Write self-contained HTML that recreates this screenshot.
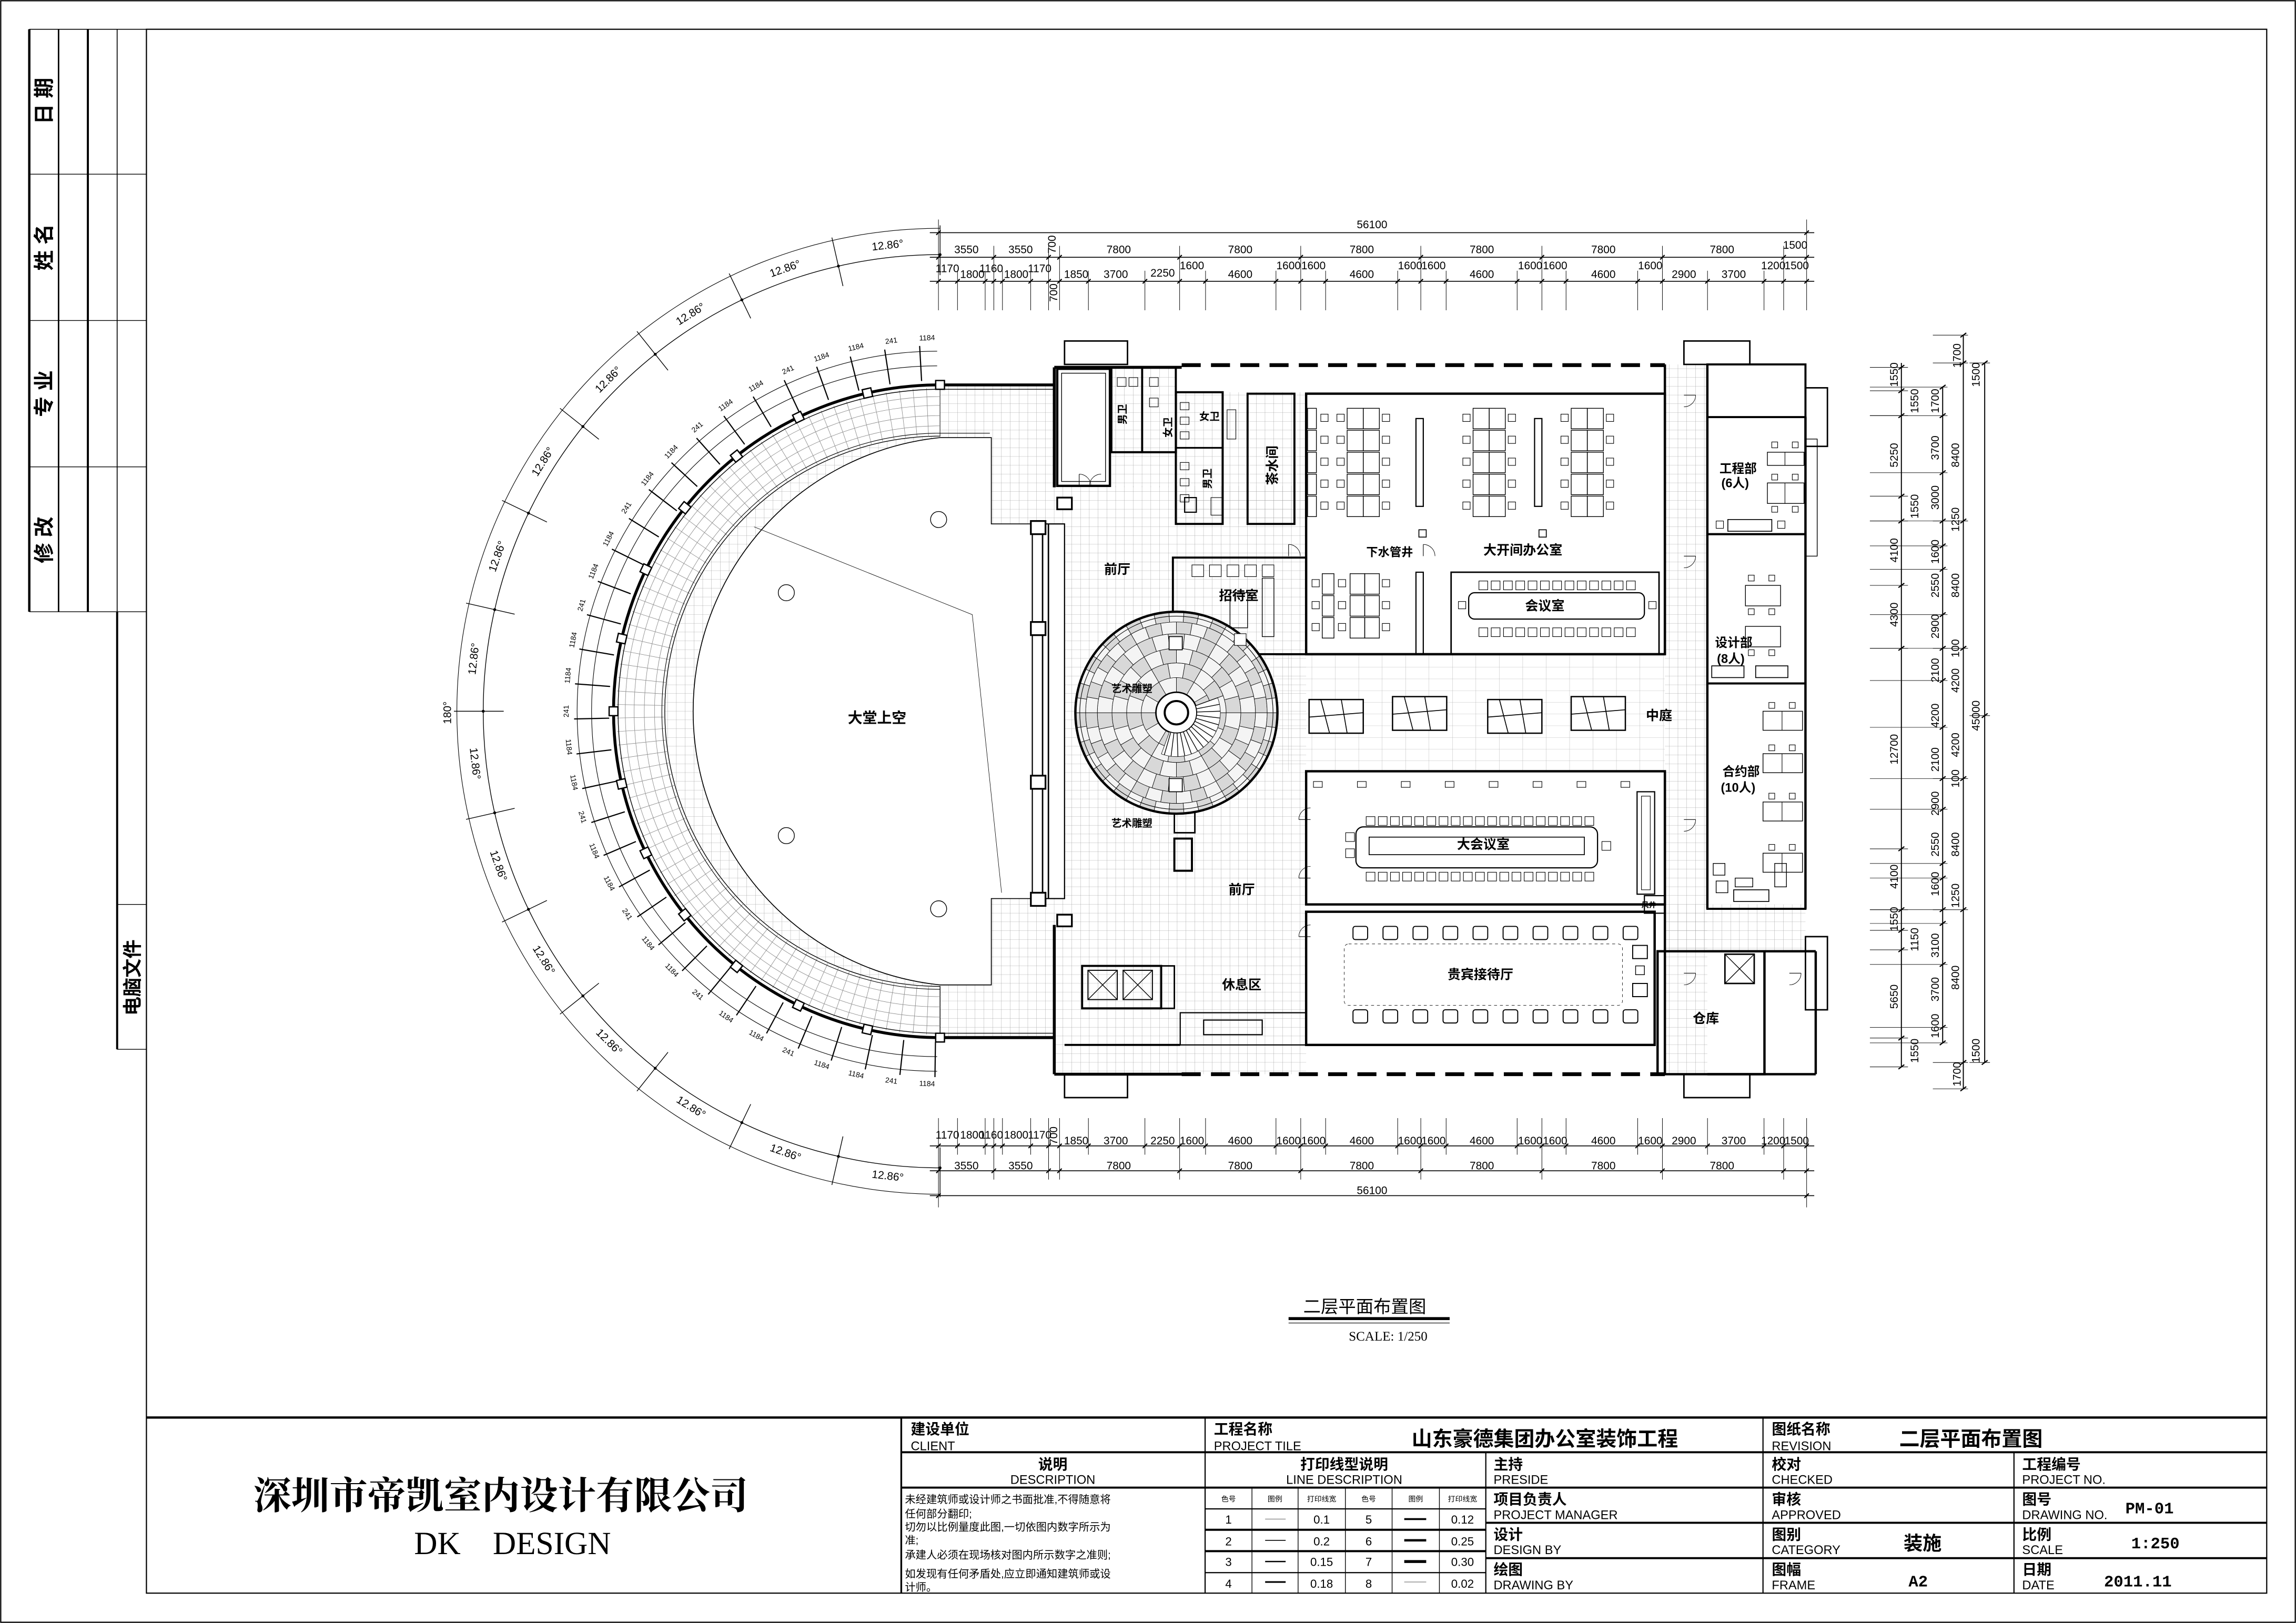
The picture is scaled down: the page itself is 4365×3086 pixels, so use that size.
<!DOCTYPE html>
<html><head><meta charset="utf-8">
<style>
html,body{margin:0;padding:0;background:#fff;}
svg{display:block;}
text{font-family:"Liberation Sans","Noto Sans CJK SC",sans-serif;fill:#000;stroke:none;}
.cn{font-family:"Liberation Sans","Noto Sans CJK SC",sans-serif;font-weight:bold;}
.d{font-size:7.5px;text-anchor:middle;}
.t{font-size:9px;}
.e{font-size:8.5px;}
.lb{font-size:9px;font-weight:bold;text-anchor:middle;}
.ang{font-size:7.5px;text-anchor:middle;dominant-baseline:middle;}
.rl{font-size:5px;text-anchor:middle;dominant-baseline:middle;}
.mono{font-family:"Liberation Mono",monospace !important;font-weight:bold;}
.serif{font-family:"Liberation Serif",serif !important;}
</style></head>
<body>
<svg id="s" xmlns="http://www.w3.org/2000/svg" width="4365" height="3086" viewBox="0 0 1568 1109" preserveAspectRatio="none">
<defs>
<pattern id="g6" patternUnits="userSpaceOnUse" width="6" height="6"><path d="M6 0V6M0 6H6" stroke="#999" stroke-width="0.3" fill="none"/></pattern>
<pattern id="g8" patternUnits="userSpaceOnUse" width="8" height="8"><path d="M8 0V8M0 8H8" stroke="#999" stroke-width="0.3" fill="none"/></pattern>
<pattern id="gc" patternUnits="userSpaceOnUse" width="16" height="8"><path d="M0 8H16M16 0V8" stroke="#aaa" stroke-width="0.3" fill="none"/></pattern>
</defs>
<rect x="0" y="0" width="1568" height="1109" fill="#fff"/>
<rect x="0.5" y="0.5" width="1567" height="1108" fill="none" stroke="#000" stroke-width="0.8"/>
<rect x="100" y="20" width="1448" height="1068.6" fill="none" stroke="#000" stroke-width="0.8"/>

<g stroke="#000" fill="none">
<line x1="20" y1="20" x2="20" y2="418" stroke-width="1.6"/>
<line x1="40" y1="20" x2="40" y2="418" stroke-width="1"/>
<line x1="60" y1="20" x2="60" y2="418" stroke-width="1.4"/>
<line x1="80" y1="20" x2="80" y2="717" stroke-width="0.6"/>
<line x1="80" y1="418" x2="80" y2="717" stroke-width="1.4"/>
<line x1="20" y1="20" x2="100" y2="20" stroke-width="0.6"/>
<line x1="20" y1="119" x2="100" y2="119" stroke-width="0.5"/>
<line x1="20" y1="219" x2="100" y2="219" stroke-width="0.5"/>
<line x1="20" y1="319" x2="100" y2="319" stroke-width="0.5"/>
<line x1="20" y1="418" x2="100" y2="418" stroke-width="0.5"/>
<line x1="80" y1="618" x2="100" y2="618" stroke-width="0.5"/>
<line x1="80" y1="717" x2="100" y2="717" stroke-width="0.5"/>
</g>
<g class="cn" font-size="14" text-anchor="middle">
<text transform="translate(35,69) rotate(-90)">日 期</text>
<text transform="translate(35,169) rotate(-90)">姓 名</text>
<text transform="translate(35,269) rotate(-90)">专 业</text>
<text transform="translate(35,369) rotate(-90)">修 改</text>
<text transform="translate(95,668) rotate(-90)" font-size="13">电脑文件</text>
</g>

<g stroke="#000" fill="none">
<line x1="100" y1="968.6" x2="1548" y2="968.6" stroke-width="1.6"/>
<line x1="615.5" y1="968.6" x2="615.5" y2="1088.6" stroke-width="1.2"/>
<line x1="823" y1="968.6" x2="823" y2="1088.6" stroke-width="0.8"/>
<line x1="1014.7" y1="992.3" x2="1014.7" y2="1088.6" stroke-width="0.8"/>
<line x1="1204" y1="968.6" x2="1204" y2="1088.6" stroke-width="0.8"/>
<line x1="1375.4" y1="992.3" x2="1375.4" y2="1088.6" stroke-width="0.8"/>
<line x1="615.5" y1="992.3" x2="1548" y2="992.3" stroke-width="1.4"/>
<line x1="615.5" y1="1016.5" x2="1548" y2="1016.5" stroke-width="1.4"/>
<line x1="823" y1="1031" x2="1014.7" y2="1031" stroke-width="0.8"/>
<line x1="823" y1="1045.3" x2="1014.7" y2="1045.3" stroke-width="1.4"/>
<line x1="823" y1="1059.9" x2="1014.7" y2="1059.9" stroke-width="1.4"/>
<line x1="823" y1="1074.6" x2="1014.7" y2="1074.6" stroke-width="0.8"/>
<line x1="1014.7" y1="1040.5" x2="1548" y2="1040.5" stroke-width="1.4"/>
<line x1="1014.7" y1="1064.7" x2="1548" y2="1064.7" stroke-width="1.4"/>
<line x1="855" y1="1016.5" x2="855" y2="1088.6" stroke-width="0.5"/>
<line x1="886.5" y1="1016.5" x2="886.5" y2="1088.6" stroke-width="0.5"/>
<line x1="918.8" y1="1016.5" x2="918.8" y2="1088.6" stroke-width="0.5"/>
<line x1="950.7" y1="1016.5" x2="950.7" y2="1088.6" stroke-width="0.5"/>
<line x1="983" y1="1016.5" x2="983" y2="1088.6" stroke-width="0.5"/>
<line x1="864" y1="1038" x2="878" y2="1038" stroke="#888" stroke-width="0.5"/>
<line x1="864" y1="1052.5" x2="878" y2="1052.5" stroke-width="0.6"/>
<line x1="864" y1="1067" x2="878" y2="1067" stroke-width="0.9"/>
<line x1="864" y1="1081" x2="878" y2="1081" stroke-width="1.1"/>
<line x1="959" y1="1038" x2="974" y2="1038" stroke-width="1.3"/>
<line x1="959" y1="1052.5" x2="974" y2="1052.5" stroke-width="1.6"/>
<line x1="959" y1="1067" x2="974" y2="1067" stroke-width="2"/>
<line x1="959" y1="1081" x2="974" y2="1081" stroke="#888" stroke-width="0.5"/>
</g>
<text x="342" y="1031" font-size="26" text-anchor="middle" style="font-family:'Noto Serif CJK SC',serif;font-weight:bold;">深圳市帝凯室内设计有限公司</text>
<text x="350" y="1062" font-size="22" text-anchor="middle" class="serif" xml:space="preserve">DK    DESIGN</text>
<g class="e">
<text x="622" y="980" class="cn" font-size="10">建设单位</text><text x="622" y="991">CLIENT</text>
<text x="829" y="980" class="cn" font-size="10">工程名称</text><text x="829" y="991">PROJECT TILE</text>
<text x="1210" y="980" class="cn" font-size="10">图纸名称</text><text x="1210" y="991">REVISION</text>
<text x="719" y="1004" class="cn" font-size="10" text-anchor="middle">说明</text><text x="719" y="1014" text-anchor="middle">DESCRIPTION</text>
<text x="918" y="1004" class="cn" font-size="10" text-anchor="middle">打印线型说明</text><text x="918" y="1014" text-anchor="middle">LINE DESCRIPTION</text>
<text x="1020" y="1004" class="cn" font-size="10">主持</text><text x="1020" y="1014">PRESIDE</text>
<text x="1210" y="1004" class="cn" font-size="10">校对</text><text x="1210" y="1014">CHECKED</text>
<text x="1381" y="1004" class="cn" font-size="10">工程编号</text><text x="1381" y="1014">PROJECT NO.</text>
<text x="1020" y="1028" class="cn" font-size="10">项目负责人</text><text x="1020" y="1038">PROJECT MANAGER</text>
<text x="1210" y="1028" class="cn" font-size="10">审核</text><text x="1210" y="1038">APPROVED</text>
<text x="1381" y="1028" class="cn" font-size="10">图号</text><text x="1381" y="1038">DRAWING NO.</text>
<text x="1020" y="1052" class="cn" font-size="10">设计</text><text x="1020" y="1062">DESIGN BY</text>
<text x="1210" y="1052" class="cn" font-size="10">图别</text><text x="1210" y="1062">CATEGORY</text>
<text x="1381" y="1052" class="cn" font-size="10">比例</text><text x="1381" y="1062">SCALE</text>
<text x="1020" y="1076" class="cn" font-size="10">绘图</text><text x="1020" y="1086">DRAWING BY</text>
<text x="1210" y="1076" class="cn" font-size="10">图幅</text><text x="1210" y="1086">FRAME</text>
<text x="1381" y="1076" class="cn" font-size="10">日期</text><text x="1381" y="1086">DATE</text>
</g>
<text class="cn" x="1055" y="988" font-size="14" text-anchor="middle">山东豪德集团办公室装饰工程</text>
<text class="cn" x="1297" y="988" font-size="14">二层平面布置图</text>
<text x="1468" y="1034" font-size="11" text-anchor="middle" class="mono">PM-01</text>
<text class="cn" x="1313" y="1059" font-size="13" text-anchor="middle">装施</text>
<text x="1472" y="1058" font-size="11" text-anchor="middle" class="mono">1:250</text>
<text x="1310" y="1084" font-size="11" text-anchor="middle" class="mono">A2</text>
<text x="1460" y="1084" font-size="11" text-anchor="middle" class="mono">2011.11</text>
<g font-size="7.3">
<text x="618" y="1027">未经建筑师或设计师之书面批准,不得随意将</text>
<text x="618" y="1037">任何部分翻印;</text>
<text x="618" y="1046">切勿以比例量度此图,一切依图内数字所示为</text>
<text x="618" y="1055">准;</text>
<text x="618" y="1065">承建人必须在现场核对图内所示数字之准则;</text>
<text x="618" y="1078">如发现有任何矛盾处,应立即通知建筑师或设</text>
<text x="618" y="1087">计师。</text>
</g>
<g font-size="5" text-anchor="middle">
<text x="839" y="1026">色号</text><text x="870.7" y="1026">图例</text><text x="902.6" y="1026">打印线宽</text>
<text x="934.7" y="1026">色号</text><text x="966.8" y="1026">图例</text><text x="998.8" y="1026">打印线宽</text>
</g>
<g font-size="8" text-anchor="middle">
<text x="839" y="1041">1</text><text x="902.6" y="1041">0.1</text><text x="934.7" y="1041">5</text><text x="998.8" y="1041">0.12</text>
<text x="839" y="1056">2</text><text x="902.6" y="1056">0.2</text><text x="934.7" y="1056">6</text><text x="998.8" y="1056">0.25</text>
<text x="839" y="1070">3</text><text x="902.6" y="1070">0.15</text><text x="934.7" y="1070">7</text><text x="998.8" y="1070">0.30</text>
<text x="839" y="1085">4</text><text x="902.6" y="1085">0.18</text><text x="934.7" y="1085">8</text><text x="998.8" y="1085">0.02</text>
</g>

<text x="932" y="897" font-size="12" text-anchor="middle">二层平面布置图</text>
<line x1="880" y1="901" x2="990" y2="901" stroke="#000" stroke-width="2"/>
<line x1="880" y1="904" x2="990" y2="904" stroke="#000" stroke-width="0.4"/>
<text x="948" y="916" font-size="9" text-anchor="middle" class="serif">SCALE: 1/250</text>

<g stroke="none">
<path d="M720 263 H642 A223 223 0 0 0 642 709 H720 Z" fill="url(#g6)"/>
<rect x="720" y="332" width="172" height="402" fill="url(#g6)"/>
<rect x="759" y="251" width="44" height="82" fill="url(#g6)"/>
<rect x="803" y="268" width="90" height="90" fill="url(#g6)"/>
<rect x="871" y="447" width="266" height="80" fill="url(#gc)"/>
<rect x="1137" y="249" width="29" height="485" fill="url(#g6)"/>
<rect x="1137" y="618" width="96" height="32" fill="url(#g6)"/>
</g>

<g id="plan" stroke="#000" fill="none"></g>

<g class="cn" font-size="9" text-anchor="middle">
<text x="599" y="494" font-size="10">大堂上空</text>
<text x="763" y="392">前厅</text>
<text x="846" y="410">招待室</text>
<text x="1040" y="379">大开间办公室</text>
<text x="949" y="380" font-size="8">下水管井</text>
<text x="1055" y="417">会议室</text>
<text x="773" y="473" font-size="7">艺术雕塑</text>
<text x="773" y="565" font-size="7">艺术雕塑</text>
<text x="1133" y="492">中庭</text>
<text x="1013" y="580">大会议室</text>
<text x="848" y="611">前厅</text>
<text x="1011" y="669">贵宾接待厅</text>
<text x="848" y="676">休息区</text>
<text x="1165" y="699">仓库</text>
<text x="1187" y="323" font-size="8.5">工程部</text>
<text x="1185" y="333" font-size="8.5">(6人)</text>
<text x="1184" y="442" font-size="8.5">设计部</text>
<text x="1182" y="453" font-size="8.5">(8人)</text>
<text x="1189" y="530" font-size="8.5">合约部</text>
<text x="1187" y="541" font-size="8.5">(10人)</text>
<text x="1126" y="620" font-size="5">风井</text>
<text transform="translate(872,318) rotate(-90)" font-size="9">茶水间</text>
<text transform="translate(769,283) rotate(-90)" font-size="7">男卫</text>
<text transform="translate(800,292) rotate(-90)" font-size="7">女卫</text>
<text x="826" y="287" font-size="7">女卫</text>
<text transform="translate(827,327) rotate(-90)" font-size="7">男卫</text>
</g>

<g class="d">
<text x="937" y="156">56100</text>
<text x="660" y="173">3550</text><text x="697" y="173">3550</text>
<text transform="translate(721,167) rotate(-90)">700</text>
<text x="764" y="173">7800</text><text x="847" y="173">7800</text><text x="930" y="173">7800</text><text x="1012" y="173">7800</text><text x="1095" y="173">7800</text><text x="1176" y="173">7800</text>
<text x="1226" y="170">1500</text>
<text x="647" y="186">1170</text><text x="664" y="190">1800</text><text x="677" y="186">1160</text><text x="694" y="190">1800</text><text x="710" y="186">1170</text>
<text x="735" y="190">1850</text><text x="762" y="190">3700</text><text x="794" y="189">2250</text>
<text x="814" y="184">1600</text><text x="847" y="190">4600</text><text x="880" y="184">1600</text>
<text x="897" y="184">1600</text><text x="930" y="190">4600</text><text x="963" y="184">1600</text>
<text x="979" y="184">1600</text><text x="1012" y="190">4600</text><text x="1045" y="184">1600</text>
<text x="1062" y="184">1600</text><text x="1095" y="190">4600</text><text x="1127" y="184">1600</text>
<text x="1150" y="190">2900</text><text x="1184" y="190">3700</text><text x="1211" y="184">1200</text><text x="1227" y="184">1500</text>
<text transform="translate(722,200) rotate(-90)">700</text>
</g>
<g class="d">
<text x="647" y="778">1170</text><text x="664" y="778">1800</text><text x="677" y="778">1160</text><text x="694" y="778">1800</text><text x="710" y="778">1170</text>
<text transform="translate(722,776) rotate(-90)">700</text>
<text x="735" y="782">1850</text><text x="762" y="782">3700</text><text x="794" y="782">2250</text>
<text x="814" y="782">1600</text><text x="847" y="782">4600</text><text x="880" y="782">1600</text>
<text x="897" y="782">1600</text><text x="930" y="782">4600</text><text x="963" y="782">1600</text>
<text x="979" y="782">1600</text><text x="1012" y="782">4600</text><text x="1045" y="782">1600</text>
<text x="1062" y="782">1600</text><text x="1095" y="782">4600</text><text x="1127" y="782">1600</text>
<text x="1150" y="782">2900</text><text x="1184" y="782">3700</text><text x="1211" y="782">1200</text><text x="1227" y="782">1500</text>
<text x="660" y="799">3550</text><text x="697" y="799">3550</text>
<text x="764" y="799">7800</text><text x="847" y="799">7800</text><text x="930" y="799">7800</text><text x="1012" y="799">7800</text><text x="1095" y="799">7800</text><text x="1176" y="799">7800</text>
<text x="937" y="816">56100</text>
</g>
<g class="d">
<text transform="translate(1296,256) rotate(-90)">1550</text>
<text transform="translate(1296,311) rotate(-90)">5250</text>
<text transform="translate(1296,376) rotate(-90)">4100</text>
<text transform="translate(1296,420) rotate(-90)">4300</text>
<text transform="translate(1296,512) rotate(-90)">12700</text>
<text transform="translate(1296,599) rotate(-90)">4100</text>
<text transform="translate(1296,628) rotate(-90)">1550</text>
<text transform="translate(1296,681) rotate(-90)">5650</text>
<text transform="translate(1310,274) rotate(-90)">1550</text>
<text transform="translate(1310,346) rotate(-90)">1550</text>
<text transform="translate(1310,642) rotate(-90)">1150</text>
<text transform="translate(1310,718) rotate(-90)">1550</text>
<text transform="translate(1324,274) rotate(-90)">1700</text>
<text transform="translate(1324,306) rotate(-90)">3700</text>
<text transform="translate(1324,340) rotate(-90)">3000</text>
<text transform="translate(1324,377) rotate(-90)">1600</text>
<text transform="translate(1324,400) rotate(-90)">2550</text>
<text transform="translate(1324,428) rotate(-90)">2900</text>
<text transform="translate(1324,458) rotate(-90)">2100</text>
<text transform="translate(1324,489) rotate(-90)">4200</text>
<text transform="translate(1324,519) rotate(-90)">2100</text>
<text transform="translate(1324,549) rotate(-90)">2900</text>
<text transform="translate(1324,577) rotate(-90)">2550</text>
<text transform="translate(1324,604) rotate(-90)">1600</text>
<text transform="translate(1324,646) rotate(-90)">3100</text>
<text transform="translate(1324,676) rotate(-90)">3700</text>
<text transform="translate(1324,701) rotate(-90)">1600</text>
<text transform="translate(1338,311) rotate(-90)">8400</text>
<text transform="translate(1338,355) rotate(-90)">1250</text>
<text transform="translate(1338,400) rotate(-90)">8400</text>
<text transform="translate(1338,443) rotate(-90)">100</text>
<text transform="translate(1338,465) rotate(-90)">4200</text>
<text transform="translate(1338,509) rotate(-90)">4200</text>
<text transform="translate(1338,532) rotate(-90)">100</text>
<text transform="translate(1338,577) rotate(-90)">8400</text>
<text transform="translate(1338,612) rotate(-90)">1250</text>
<text transform="translate(1338,668) rotate(-90)">8400</text>
<text transform="translate(1339,243) rotate(-90)">1700</text>
<text transform="translate(1339,734) rotate(-90)">1700</text>
<text transform="translate(1352,256) rotate(-90)">1500</text>
<text transform="translate(1352,489) rotate(-90)">45000</text>
<text transform="translate(1352,718) rotate(-90)">1500</text>
</g>

<g id="angs">
<text class="ang">12.86°</text><text class="ang">12.86°</text><text class="ang">12.86°</text><text class="ang">12.86°</text><text class="ang">12.86°</text><text class="ang">12.86°</text><text class="ang">12.86°</text><text class="ang">12.86°</text><text class="ang">12.86°</text><text class="ang">12.86°</text><text class="ang">12.86°</text><text class="ang">12.86°</text><text class="ang">12.86°</text><text class="ang">12.86°</text>
<text class="ang" transform="translate(306,487) rotate(-90)">180°</text>
</g>
<g id="rls">
<text class="rl">1184</text><text class="rl">241</text><text class="rl">1184</text><text class="rl">1184</text><text class="rl">241</text><text class="rl">1184</text><text class="rl">1184</text><text class="rl">241</text><text class="rl">1184</text><text class="rl">1184</text><text class="rl">241</text><text class="rl">1184</text><text class="rl">1184</text><text class="rl">241</text><text class="rl">1184</text><text class="rl">1184</text><text class="rl">241</text><text class="rl">1184</text><text class="rl">1184</text><text class="rl">241</text><text class="rl">1184</text><text class="rl">1184</text><text class="rl">241</text><text class="rl">1184</text><text class="rl">1184</text><text class="rl">241</text><text class="rl">1184</text><text class="rl">1184</text><text class="rl">241</text><text class="rl">1184</text><text class="rl">1184</text><text class="rl">241</text><text class="rl">1184</text>
</g>
</svg>
<script>
(function(){
var S='http://www.w3.org/2000/svg',g=document.getElementById('plan');
function el(t,a,p){var e=document.createElementNS(S,t);for(var k in a)e.setAttribute(k,a[k]);(p||g).appendChild(e);return e;}
function L(x1,y1,x2,y2,w,c){el('line',{x1:x1,y1:y1,x2:x2,y2:y2,'stroke-width':w||0.5,stroke:c||'#000'});}
function R(x,y,w,h,sw,f){el('rect',{x:x,y:y,width:w,height:h,'stroke-width':sw||0.5,fill:f||'none'});}
function P(d,sw,f){el('path',{d:d,'stroke-width':sw||0.5,fill:f||'none'});}
var D=Math.PI/180,cx=642,cy=486;
function pt(r,a){return [cx+r*Math.cos(a*D),cy-r*Math.sin(a*D)];}
P('M642 263 A223 223 0 0 0 642 709 L642 674 A188 188 0 0 1 642 298 Z',0,'#fff');
for(var a=90;a<=270;a+=2.4){var p1=pt(188,a),p2=pt(221,a);L(p1[0],p1[1],p2[0],p2[1],0.3,'#888');}
[195,202,209,215].forEach(function(r){P('M642 '+(cy-r)+' A'+r+' '+r+' 0 0 0 642 '+(cy+r),0.3);g.lastChild.setAttribute('stroke','#888');});
P('M677 299 H642 A188 188 0 0 0 642 673 H677 V614 H705 V358 H677 Z',0.6,'#fff');
P('M676 296 H642 A190 190 0 0 0 642 676',0.4);
P('M720 263 H642 A223 223 0 0 0 642 709 H720',2);
P('M720 266 H642 A220 220 0 0 0 642 706 H720',0.5);
P('M640 250 A236 236 0 0 0 640 722',0.4);
P('M640 240 A246 246 0 0 0 640 732',0.4);
for(var k=0;k<=14;k++){var a=90+12.857*k,q=pt(223,a);el('rect',{x:q[0]-3,y:q[1]-3,width:6,height:6,'stroke-width':0.9,fill:'#fff',transform:'rotate('+(-a)+' '+q[0]+' '+q[1]+')'});}
var rl=document.querySelectorAll('.rl');
for(var i=0;i<rl.length;i++){var a=92+i*(176/(rl.length-1));var q=pt(255,a);var rot=a<=180?90-a:270-a;rl[i].setAttribute('transform','translate('+q[0].toFixed(1)+','+q[1].toFixed(1)+') rotate('+rot+')');
 var p1=pt(226,a+1.2),p2=pt(250,a+1.2);L(p1[0],p1[1],p2[0],p2[1],0.8);}
P('M642 174 A312 312 0 0 0 642 798',0.5);
P('M642 156 A330 330 0 0 0 642 816',0.4);
for(var k=0;k<=14;k++){var a=90+12.857*k,p1=pt(298,a),p2=pt(332,a),q=pt(312,a);L(p1[0],p1[1],p2[0],p2[1],0.5);el('circle',{cx:q[0],cy:q[1],r:1,fill:'#000','stroke-width':0});}
var an=document.querySelectorAll('#angs .ang');
for(var i=0;i<14;i++){var a=90+12.857*(i+0.5),q=pt(320,a),rot=a<=180?90-a:270-a;an[i].setAttribute('transform','translate('+q[0].toFixed(1)+','+q[1].toFixed(1)+') rotate('+rot+')');}
[[537,405],[537,571],[641,355],[641,621]].forEach(function(c){el('circle',{cx:c[0],cy:c[1],r:5.5,'stroke-width':0.5,fill:'#fff'});});
P('M515 360 L664 420 L684 610',0.3);
R(705,358,22,256,0.8,'#fff');L(712,358,712,614,1);L(716,358,716,614,1);
[[704,356],[704,425],[704,530],[704,610]].forEach(function(c){R(c[0],c[1],10,9,1.2,'#fff');});
R(722,340,10,8,1.2,'#fff');R(722,625,10,8,1.2,'#fff');
L(807,249.5,1137,249.5,2.6);g.lastChild.setAttribute('stroke-dasharray','13 7');
L(807,734,1137,734,2.6);g.lastChild.setAttribute('stroke-dasharray','13 7');
L(720,251,807,251,2);L(720,734,807,734,2);
L(720,251,720,333,2);L(720,632,720,734,2);
R(722,252,36,80,1.6,'#fff');R(725,255,30,74,0.5);
R(759,251,44,58,1.4);L(780,251,780,309,1.4);L(759,309,803,309,1.4);
R(803,268,32,90,1.4);L(803,306,835,306,1.2);
R(852,269,32,89,1.4);
R(727,233,43,16,1);R(1150,233,45,16,1);R(727,734,43,16,1);R(1150,734,45,16,1);
R(892,269,245,178,1.6);
R(991,391,142,56,1);
R(801,381,91,66,1.4);
R(892,527,245,91,1.6);
R(892,623,238,91,1.6);
R(1132,650,73,84,1.6);
R(1166,285,67,80,1.4);R(1166,365,67,102,1.4);R(1166,467,67,154,1.4);
R(1166,249,67,36,1.4,'#fff');
L(1137,249,1137,447,1.6);L(1137,527,1137,734,1.6);L(1166,249,1166,621,1.6);
L(1233,285,1233,621,1.6);R(1233,265,15,40,1);R(1233,640,15,50,1);R(1233,300,8,80,0.5);
L(1205,650,1240,650,1.6);L(1240,650,1240,734,1.6);L(1166,734,1240,734,1.6);
R(1178,652,20,20,1);L(1178,652,1198,672,0.5);L(1198,652,1178,672,0.5);
R(1123,612,14,12,0.8);
R(739,660,54,29,1.4);R(743,663,20,20,0.7);L(743,663,763,683,0.5);L(763,663,743,683,0.5);R(767,663,20,20,0.7);L(767,663,787,683,0.5);L(787,663,767,683,0.5);
R(793,660,9,29,1);
R(806,692,86,22,0.8);R(822,697,40,10,0.8);
R(802,555,14,14,1);R(802,573,12,22,1.4);
L(727,714,806,714,1.4);
var ccx=803.4,ccy=487;
el('circle',{cx:ccx,cy:ccy,r:69,fill:'#fff','stroke-width':1.4});
function sect(r1,r2,a1,a2,f){var c1=Math.cos(a1*D),s1=Math.sin(a1*D),c2=Math.cos(a2*D),s2=Math.sin(a2*D);
 P('M'+(ccx+r1*c1)+' '+(ccy+r1*s1)+'L'+(ccx+r2*c1)+' '+(ccy+r2*s1)+'A'+r2+' '+r2+' 0 0 1 '+(ccx+r2*c2)+' '+(ccy+r2*s2)+'L'+(ccx+r1*c2)+' '+(ccy+r1*s2)+'A'+r1+' '+r1+' 0 0 0 '+(ccx+r1*c1)+' '+(ccy+r1*s1)+'Z',0.3,f);}
var rs=[14,24,34,44,54,62,69];
for(var i=0;i<rs.length-1;i++){var n=12+i*6,st=360/n;for(var j=0;j<n;j++){sect(rs[i],rs[i+1],j*st,(j+1)*st,((i+j)%2)?'#d8d8d8':'#f4f4f4');}}
el('circle',{cx:ccx,cy:ccy,r:69,fill:'none','stroke-width':1.6});
el('circle',{cx:ccx,cy:ccy,r:66,fill:'none','stroke-width':0.4});
el('circle',{cx:ccx,cy:ccy,r:14,fill:'#fff','stroke-width':1});
el('circle',{cx:ccx,cy:ccy,r:8,fill:'#fff','stroke-width':1.4});
sect(14,30,-20,110,'#fff');
for(var a=-20;a<=110;a+=9){L(ccx+14*Math.cos(a*D),ccy+14*Math.sin(a*D),ccx+30*Math.cos(a*D),ccy+30*Math.sin(a*D),0.5);}
R(ccx-5,ccy-70+18,9,9,0.6,'#fff');R(ccx-5,ccy+45,9,9,0.6,'#fff');
function chair(x,y,s){R(x,y,s||5,s||5,0.4,'#fff');}
function cluster(x0){for(var r=0;r<5;r++){var y=279+r*15;R(x0,y,11,14,0.5);R(x0+11,y,11,14,0.5);chair(x0-7,y+4);chair(x0+24,y+4);}}
cluster(920);cluster(1006);cluster(1073);
for(var r=0;r<5;r++){R(893,279+r*15,6,14,0.5);chair(902,283+r*15);}
R(967,286,5,60,0.8);R(1048,286,5,60,0.8);R(969,362,5,5,0.6);R(1051,362,5,5,0.6);
for(var r=0;r<3;r++){var y=392+r*15;R(903,y,8,14,0.5);chair(896,y+4);R(922,y,10,14,0.5);R(932,y,10,14,0.5);chair(914,y+4);chair(944,y+4);}
R(967,391,5,56,0.8);
for(var i=0;i<13;i++){chair(1010+i*8.4,397,6);chair(1010+i*8.4,429,6);}
el('rect',{x:1003,y:405,width:120,height:18,rx:4,'stroke-width':0.8,fill:'#fff'});chair(996,411,5);chair(1126,411,5);
for(var i=0;i<5;i++)chair(814+i*12,386,8);R(862,395,8,40,0.5);R(840,405,12,24,0.5);chair(843,433,8);
[[894,478],[951,476],[1016,478],[1073,476]].forEach(function(b){R(b[0],b[1],37,23,0.9,'#fff');L(b[0]+8,b[1],b[0]+14,b[1]+23,0.6);L(b[0]+22,b[1],b[0]+26,b[1]+23,0.6);L(b[0],b[1]+12,b[0]+37,b[1]+9,0.6);});
for(var i=0;i<19;i++){chair(933+i*8.3,558,6);chair(933+i*8.3,596,6);}
el('rect',{x:926,y:565,width:165,height:28,rx:5,'stroke-width':0.8,fill:'#fff'});R(935,572,147,12,0.6);
chair(919,569,6);chair(919,580,6);chair(1094,575,6);
R(1118,541,12,70,0.8);R(1121,544,6,64,0.4);
for(var i=0;i<8;i++){R(897+i*30,534,6,4,0.4);}
for(var i=0;i<10;i++){el('rect',{x:924+i*20.5,y:633,width:10,height:9,rx:1.5,'stroke-width':0.7,fill:'#fff'});el('rect',{x:924+i*20.5,y:690,width:10,height:9,rx:1.5,'stroke-width':0.7,fill:'#fff'});}
R(1115,646,10,9,0.7);R(1115,672,10,9,0.7);R(1117,660,6,6,0.5);
el('rect',{x:918,y:645,width:190,height:42,rx:3,'stroke-width':0.3,fill:'none','stroke-dasharray':'2 2'});
R(1207,309,25,9,0.5);L(1219,309,1219,318,0.4);chair(1210,302,4);chair(1224,302,4);
R(1207,330,25,14,0.5);L(1219,330,1219,344,0.4);chair(1210,324,4);chair(1224,324,4);chair(1210,346,4);chair(1224,346,4);
R(1180,355,30,8,0.6);chair(1172,356,5);chair(1214,356,5);
R(1192,400,24,14,0.5);chair(1194,393,4);chair(1208,393,4);chair(1194,416,4);chair(1208,416,4);
R(1192,428,24,14,0.5);chair(1194,444,4);chair(1208,444,4);
R(1169,455,22,8,0.6);R(1199,455,22,8,0.6);
[486,515,548,583].forEach(function(y){R(1204,y,27,13,0.5);L(1217,y,1217,y+13,0.4);chair(1208,y-6,4);chair(1222,y-6,4);});
R(1170,590,8,8,0.5);R(1172,602,8,8,0.5);R(1185,600,12,6,0.5);R(1212,590,8,16,0.5);R(1184,608,24,8,0.6);
for(var i=0;i<3;i++){R(806,275+i*10,6,5,0.4);R(806,316+i*11,6,5,0.4);}
R(838,280,6,20,0.4);R(827,340,8,12,0.4);R(809,340,8,10,0.8);
R(763,258,6,6,0.4);R(771,258,6,6,0.4);R(785,258,6,6,0.4);R(785,272,6,6,0.4);
function door(x,y,r,a1){var x2=x+r*Math.cos(a1*D),y2=y+r*Math.sin(a1*D),x3=x+r*Math.cos((a1+90)*D),y3=y+r*Math.sin((a1+90)*D);P('M'+x2+' '+y2+' A'+r+' '+r+' 0 0 1 '+x3+' '+y3,0.3);L(x,y,x2,y2,0.4);}
door(737,332,8,-90);door(752,332,8,-180);door(880,380,8,-90);door(895,560,8,180);door(895,600,8,180);door(895,640,8,180);door(1150,270,8,0);door(1150,380,8,0);door(1150,560,8,0);door(1150,665,8,0);door(1222,665,8,0);door(972,380,8,-90);
function hl(y,x1,x2,w){L(x1,y,x2,y,w||0.6);}
hl(159,635,1239);hl(175.8,635,1239);hl(192.2,635,1239);
hl(783,635,1239);hl(800,635,1239);hl(817,635,1239);
var maj=[640.9,1233.8],row2=[640.9,678.7,716.1,723.6,805.6,888.3,970.3,1053,1135.3,1218.1,1233.8],
row3=[640.9,653.9,672.8,678.7,684.6,703.9,716.1,723.6,743.3,781.9,805.6,823.3,871.4,888.3,905.3,954.5,970.3,987.6,1036.1,1053,1069.5,1118.4,1135.3,1166.1,1204.7,1218.1,1233.8];
row3.forEach(function(x){L(x,185,x,212,0.35);L(x-1.5,193.7,x+1.5,190.7,0.8);L(x,764,x,789,0.35);L(x-1.5,784.5,x+1.5,781.5,0.8);});
row2.forEach(function(x){L(x,168,x,185,0.35);L(x-1.5,177.3,x+1.5,174.3,0.8);L(x,789,x,806,0.35);L(x-1.5,801.5,x+1.5,798.5,0.8);});
maj.forEach(function(x){L(x,150,x,168,0.35);L(x-1.5,160.5,x+1.5,157.5,0.8);L(x,806,x,825,0.35);L(x-1.5,818.5,x+1.5,815.5,0.8);});
L(1298.5,248,1298.5,729,0.7);L(1326.7,264,1326.7,713,0.7);L(1340.8,229,1340.8,744,0.7);L(1355.4,248,1355.4,726,0.7);
[251,267,284,339,356,400,443,580,621.6,635.7,649,709.3,729].forEach(function(y){L(1277,y,1303,y,0.35);L(1296.5,y+1.5,1300.5,y-1.5,0.8);});
[264.5,284,323,356,373,389,420,443,465,497,532,553,590,600,621.6,631,659,702,712.6].forEach(function(y){L(1277,y,1330,y,0.3);L(1324.7,y+1.5,1328.7,y-1.5,0.8);});
[229,248,356,443,532,621.6,726,744].forEach(function(y){L(1320,y,1344,y,0.35);L(1338.8,y+1.5,1342.8,y-1.5,0.8);});
[248,489,726].forEach(function(y){L(1345,y,1359,y,0.35);L(1353.4,y+1.5,1357.4,y-1.5,0.8);});
})();
</script>
</body></html>
